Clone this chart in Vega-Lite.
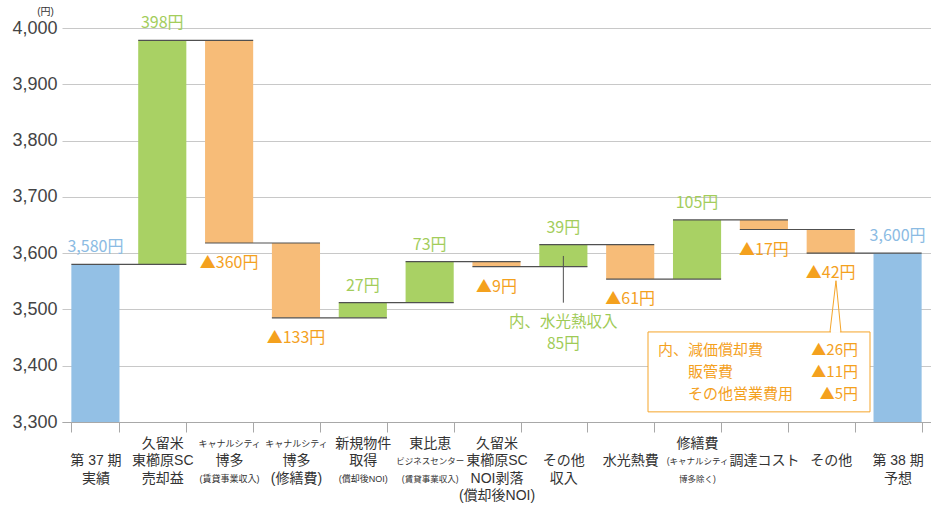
{
  "$schema": "https://vega.github.io/schema/vega-lite/v6.json",
  "width": 869,
  "height": 394,
  "autosize": {"type": "none"},
  "padding": {"left": 62, "top": 28, "right": 0, "bottom": 87},
  "background": "white",
  "config": {
    "view": {"stroke": null},
    "font": "'Liberation Sans', 'Noto Sans CJK JP', sans-serif"
  },
  "datasets": {
    "bars": [
      {"cat": "第 37 期;実績", "lo": 3300, "hi": 3580, "kind": "total", "label": "3,580円"},
      {"cat": "久留米;東櫛原SC;売却益", "lo": 3580, "hi": 3978, "kind": "up", "label": "398円"},
      {"cat": "~キャナルシティ;博多;~(賃貸事業収入)", "lo": 3618, "hi": 3978, "kind": "down", "label": "▲360円"},
      {"cat": "~キャナルシティ;博多;(修繕費)", "lo": 3485, "hi": 3618, "kind": "down", "label": "▲133円"},
      {"cat": "新規物件;取得;~(償却後NOI)", "lo": 3485, "hi": 3512, "kind": "up", "label": "27円"},
      {"cat": "東比恵;~ビジネスセンター;~(賃貸事業収入)", "lo": 3512, "hi": 3585, "kind": "up", "label": "73円"},
      {"cat": "久留米;東櫛原SC;NOI剥落;(償却後NOI)", "lo": 3576, "hi": 3585, "kind": "down", "label": "▲9円"},
      {"cat": "その他;収入", "lo": 3576, "hi": 3615, "kind": "up", "label": "39円"},
      {"cat": "水光熱費", "lo": 3554, "hi": 3615, "kind": "down", "label": "▲61円"},
      {"cat": "修繕費;~(キャナルシティ;~博多除く)", "lo": 3554, "hi": 3659, "kind": "up", "label": "105円"},
      {"cat": "調達コスト", "lo": 3642, "hi": 3659, "kind": "down", "label": "▲17円"},
      {"cat": "その他", "lo": 3600, "hi": 3642, "kind": "down", "label": "▲42円"},
      {"cat": "第 38 期;予想", "lo": 3300, "hi": 3600, "kind": "total", "label": "3,600円"}
    ],
    "links": [
      {"from": "第 37 期;実績", "to": "久留米;東櫛原SC;売却益", "level": 3580},
      {"from": "久留米;東櫛原SC;売却益", "to": "~キャナルシティ;博多;~(賃貸事業収入)", "level": 3978},
      {"from": "~キャナルシティ;博多;~(賃貸事業収入)", "to": "~キャナルシティ;博多;(修繕費)", "level": 3618},
      {"from": "~キャナルシティ;博多;(修繕費)", "to": "新規物件;取得;~(償却後NOI)", "level": 3485},
      {"from": "新規物件;取得;~(償却後NOI)", "to": "東比恵;~ビジネスセンター;~(賃貸事業収入)", "level": 3512},
      {"from": "東比恵;~ビジネスセンター;~(賃貸事業収入)", "to": "久留米;東櫛原SC;NOI剥落;(償却後NOI)", "level": 3585},
      {"from": "久留米;東櫛原SC;NOI剥落;(償却後NOI)", "to": "その他;収入", "level": 3576},
      {"from": "その他;収入", "to": "水光熱費", "level": 3615},
      {"from": "水光熱費", "to": "修繕費;~(キャナルシティ;~博多除く)", "level": 3554},
      {"from": "修繕費;~(キャナルシティ;~博多除く)", "to": "調達コスト", "level": 3659},
      {"from": "調達コスト", "to": "その他", "level": 3642},
      {"from": "その他", "to": "第 38 期;予想", "level": 3600}
    ],
    "notes": [
      {"cat": "その他;収入", "text": "内、水光熱収入\n85円"}
    ],
    "breakdown": [
      {"head": "内、減価償却費", "items": "販管費\nその他営業費用", "amounts": "▲26円\n▲11円\n▲5円"}
    ]
  },
  "resolve": {"axis": {"x": "independent"}, "scale": {"color": "independent"}},
  "layer": [
    {
      "data": {"name": "bars"},
      "mark": {"type": "bar"},
      "encoding": {
        "x": {
          "field": "cat", "type": "nominal", "sort": null,
          "scale": {
            "domain": ["第 37 期;実績", "久留米;東櫛原SC;売却益", "~キャナルシティ;博多;~(賃貸事業収入)", "~キャナルシティ;博多;(修繕費)", "新規物件;取得;~(償却後NOI)", "東比恵;~ビジネスセンター;~(賃貸事業収入)", "久留米;東櫛原SC;NOI剥落;(償却後NOI)", "その他;収入", "水光熱費", "修繕費;~(キャナルシティ;~博多除く)", "調達コスト", "その他", "第 38 期;予想"],
            "paddingInner": 0.28, "paddingOuter": 0.14
          },
          "axis": {
            "title": null, "orient": "bottom",
            "labelExpr": "datum.value ? split(replace((length(split(datum.value, ';')) < 3 ? '\u200b;' : '') + datum.value, regexp('~[^;]*', 'g'), '\u200b'), ';') : ''",
            "labelFontSize": 14, "labelColor": "#333", "labelLineHeight": 17.5,
            "labelBaseline": "middle", "labelPadding": 11, "labelAngle": 0,
            "labelOverlap": false, "labelBound": false, "labelLimit": 300,
            "tickSize": 10, "tickBand": "extent", "tickColor": "#a8a8a8",
            "domainColor": "#a8a8a8", "grid": false
          }
        },
        "y": {
          "field": "lo", "type": "quantitative", "title": "(円)",
          "scale": {"domain": [3300, 4000], "nice": false, "zero": false},
          "axis": {
            "titleAngle": 0, "titleFontSize": 10, "titleFontWeight": "normal",
            "titleColor": "#333", "titleX": -17, "titleY": -17, "titleAlign": "center", "titleBaseline": "middle",
            "format": ",d", "labelFontSize": 18, "labelColor": "#444", "labelPadding": 5,
            "ticks": false, "domain": false, "grid": true, "gridColor": "#c8c8c8",
            "values": [3300, 3400, 3500, 3600, 3700, 3800, 3900, 4000]
          }
        },
        "y2": {"field": "hi"},
        "color": {
          "field": "kind", "type": "nominal",
          "scale": {"domain": ["total", "up", "down"], "range": ["#93c0e5", "#a9d164", "#f7bc78"]},
          "legend": null
        }
      }
    },
    {
      "data": {"name": "links"},
      "mark": {"type": "rule", "color": "#505050", "strokeWidth": 1.2},
      "encoding": {
        "x": {
          "field": "from", "type": "nominal", "bandPosition": 0,
          "axis": {
            "title": null, "orient": "bottom",
            "labelExpr": "datum.value ? split(replace(replace((length(split(datum.value, ';')) < 3 ? '\u200b;' : '') + datum.value, regexp('(^|;)[^~;][^;]*', 'g'), '$1\u200b'), regexp('~', 'g'), ''), ';') : ''",
            "labelFontSize": {"condition": {"test": "datum.value == '東比恵;~ビジネスセンター;~(賃貸事業収入)' || datum.value == '修繕費;~(キャナルシティ;~博多除く)'", "value": 8.5}, "value": 9},
            "labelColor": "#333", "labelLineHeight": 17.5,
            "labelBaseline": "middle", "labelPadding": 11, "labelAngle": 0,
            "labelOverlap": false, "labelBound": false, "labelLimit": 300,
            "ticks": true, "tickSize": 10, "tickOpacity": 0, "tickBand": "extent",
            "domain": false, "grid": false
          }
        },
        "x2": {"field": "to", "bandPosition": 1},
        "y": {"field": "level", "type": "quantitative", "title": "(円)"}
      }
    },
    {
      "data": {"name": "bars"},
      "transform": [{"filter": "datum.kind != 'down'"}],
      "mark": {"type": "text", "baseline": "alphabetic", "dy": -12, "fontSize": 16, "font": "Noto Sans CJK JP"},
      "encoding": {
        "x": {"field": "cat", "type": "nominal", "axis": null},
        "y": {"field": "hi", "type": "quantitative", "title": "(円)"},
        "text": {"field": "label"},
        "color": {
          "field": "kind", "type": "nominal",
          "scale": {"domain": ["total", "up", "down"], "range": ["#8bbbe3", "#a3cd5b", "#f4a11e"]},
          "legend": null
        }
      }
    },
    {
      "data": {"name": "bars"},
      "transform": [{"filter": "datum.kind == 'down'"}],
      "mark": {"type": "text", "baseline": "top", "dy": 12, "fontSize": 16, "font": "Noto Sans CJK JP"},
      "encoding": {
        "x": {"field": "cat", "type": "nominal", "axis": null},
        "y": {"field": "lo", "type": "quantitative", "title": "(円)"},
        "text": {"field": "label"},
        "color": {
          "field": "kind", "type": "nominal",
          "scale": {"domain": ["total", "up", "down"], "range": ["#8bbbe3", "#a3cd5b", "#f4a11e"]},
          "legend": null
        }
      }
    },
    {
      "data": {"name": "notes"},
      "mark": {"type": "rule", "color": "#505050", "strokeWidth": 1},
      "encoding": {
        "x": {"field": "cat", "type": "nominal", "axis": null},
        "y": {"datum": 3595, "type": "quantitative", "title": "(円)"},
        "y2": {"datum": 3512}
      }
    },
    {
      "data": {"name": "notes"},
      "mark": {"type": "text", "lineBreak": "\n", "baseline": "middle", "fontSize": 15.5, "lineHeight": 22.5, "color": "#9fcb57", "font": "Noto Sans CJK JP"},
      "encoding": {
        "x": {"field": "cat", "type": "nominal", "axis": null},
        "y": {"datum": 3478, "type": "quantitative", "title": "(円)"},
        "text": {"field": "text"}
      }
    },
    {
      "data": {"name": "breakdown"},
      "mark": {"type": "rect", "fill": "white", "stroke": "#f5a52a", "strokeWidth": 1},
      "encoding": {
        "x": {"datum": "水光熱費", "type": "nominal", "bandPosition": 0.87, "axis": null},
        "x2": {"datum": "その他", "bandPosition": 1.316},
        "y": {"datum": 3460, "type": "quantitative", "title": "(円)"},
        "y2": {"datum": 3318}
      }
    },
    {
      "data": {"name": "breakdown"},
      "mark": {"type": "rule", "color": "#f5a52a", "strokeWidth": 1},
      "encoding": {
        "x": {"datum": "その他", "type": "nominal", "bandPosition": 0.484, "axis": null},
        "x2": {"datum": "その他", "bandPosition": 0.609},
        "y": {"datum": 3460, "type": "quantitative", "title": "(円)"},
        "y2": {"datum": 3551}
      }
    },
    {
      "data": {"name": "breakdown"},
      "mark": {"type": "rule", "color": "#f5a52a", "strokeWidth": 1},
      "encoding": {
        "x": {"datum": "その他", "type": "nominal", "bandPosition": 0.609, "axis": null},
        "x2": {"datum": "その他", "bandPosition": 0.713},
        "y": {"datum": 3551, "type": "quantitative", "title": "(円)"},
        "y2": {"datum": 3460}
      }
    },
    {
      "data": {"name": "breakdown"},
      "mark": {"type": "rule", "color": "white", "strokeWidth": 2},
      "encoding": {
        "x": {"datum": "その他", "type": "nominal", "bandPosition": 0.505, "axis": null},
        "x2": {"datum": "その他", "bandPosition": 0.692},
        "y": {"datum": 3460, "type": "quantitative", "title": "(円)"}
      }
    },
    {
      "data": {"name": "breakdown"},
      "mark": {"type": "text", "align": "left", "baseline": "middle", "fontSize": 15, "color": "#f4a11e", "font": "Noto Sans CJK JP"},
      "encoding": {
        "x": {"datum": "水光熱費", "type": "nominal", "bandPosition": 1.078, "axis": null},
        "y": {"datum": 3428, "type": "quantitative", "title": "(円)"},
        "text": {"field": "head"}
      }
    },
    {
      "data": {"name": "breakdown"},
      "mark": {"type": "text", "align": "left", "baseline": "middle", "lineBreak": "\n", "fontSize": 15, "lineHeight": 22, "color": "#f4a11e", "font": "Noto Sans CJK JP"},
      "encoding": {
        "x": {"datum": "水光熱費", "type": "nominal", "bandPosition": 1.701, "axis": null},
        "y": {"datum": 3389, "type": "quantitative", "title": "(円)"},
        "text": {"field": "items"}
      }
    },
    {
      "data": {"name": "breakdown"},
      "mark": {"type": "text", "align": "right", "baseline": "middle", "lineBreak": "\n", "fontSize": 15, "lineHeight": 22, "color": "#f4a11e", "font": "Noto Sans CJK JP"},
      "encoding": {
        "x": {"datum": "その他", "type": "nominal", "bandPosition": 1.067, "axis": null},
        "y": {"datum": 3428, "type": "quantitative", "title": "(円)"},
        "text": {"field": "amounts"}
      }
    }
  ]
}
